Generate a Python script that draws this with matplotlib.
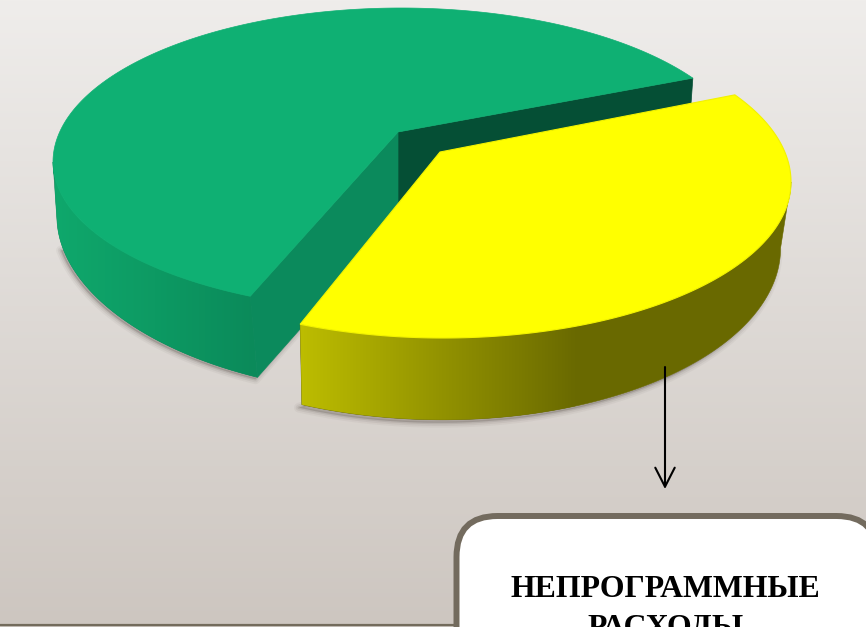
import numpy as np
import matplotlib
matplotlib.use("Agg")
import matplotlib.pyplot as plt
from matplotlib.patches import Polygon, FancyBboxPatch

# --- chart data ---
slice_names = ["Программные расходы", "Непрограммные расходы"]
slice_shares = [58.7, 40.9]
callout_lines = ["НЕПРОГРАММНЫЕ", "РАСХОДЫ"]

W, H = 866, 627
fig = plt.figure(figsize=(W / 100, H / 100), dpi=100)
ax = fig.add_axes([0, 0, 1, 1])


def reset():
    ax.set_xlim(0, W)
    ax.set_ylim(H, 0)


reset()
ax.axis("off")

# background gradient
top_c = np.array([0xEF, 0xED, 0xEB]) / 255
bot_c = np.array([0xCD, 0xC6, 0xC0]) / 255
t = np.linspace(0, 1, 256)[:, None, None]
bg = top_c[None, None, :] * (1 - t) + bot_c[None, None, :] * t
ax.imshow(bg, extent=[0, W, H, 0], aspect="auto", zorder=0)
reset()

# pie projection
START = 33.0
G_APEX = (398, 132)
Y_APEX = (440, 152)
G_E = dict(cx=401, cy=162, a=348, bu=154, bl=149)
Y_E = dict(cx=443, cy=182, a=348, bu=160, bl=156)


def arc(a0, a1, e, n=300):
    th = np.radians(np.linspace(a0, a1, n))
    s = np.sin(th)
    return e["cx"] + e["a"] * np.cos(th), e["cy"] - np.where(s > 0, e["bu"], e["bl"]) * s


def lower_green(x, y):
    s = np.clip((y - 162) / 149, 0, 1)
    return x + (401 - x) * (0.012 + 0.04 * s), y + 81 + (y - 296) * 0.148


def lower_yellow(x, y):
    k = np.where(x > 443, 0.03, 0.012)
    return x + (443 - x) * k, y + 81 + (y - 330) * 0.1


def shadow(xs, ys, dx, dy):
    for w, al in zip([7, 4.5, 2], [0.05, 0.08, 0.12]):
        ax.add_patch(Polygon(np.c_[xs + dx, ys + dy], closed=True, fc="#4f4640", ec="#4f4640",
                             lw=w, alpha=al, zorder=1, joinstyle="round"))


def gradient(colours, x0, x1, y0, y1, clip_xy, z):
    cols = np.array([[int(c[i:i + 2], 16) / 255 for i in (1, 3, 5)] for c in colours])
    u = np.linspace(0, len(cols) - 1, 512)
    img = np.stack([np.interp(u, np.arange(len(cols)), cols[:, i]) for i in range(3)], axis=1)[None, :, :]
    im = ax.imshow(img, extent=[x0, x1, y1, y0], aspect="auto", zorder=z)
    cp = Polygon(clip_xy, closed=True, transform=ax.transData, fc="none", ec="none")
    ax.add_patch(cp)
    im.set_clip_path(cp)
    reset()


g_span = 360 * slice_shares[0] / 100
y_span = 360 * slice_shares[1] / 100

# ---- green slice ----
gx, gy = arc(START, START + g_span, G_E)
gbx, gby = lower_green(gx, gy)
apex_bottom = (398, 132 + 86)
m = np.argmin(gx)
s0 = m + 12
shadow(np.r_[gbx[s0:], apex_bottom[0]], np.r_[gby[s0:], apex_bottom[1]], -2, 2)

# dark inner face
ax.add_patch(Polygon([G_APEX, (gx[0], gy[0]), (gbx[0], gby[0]), apex_bottom], closed=True,
                     fc="#054F35", ec="#054F35", lw=0.5, zorder=2.1))
# outer wall
wall = np.c_[np.r_[gx[m:], gbx[m:][::-1]], np.r_[gy[m:], gby[m:][::-1]]]
ax.add_patch(Polygon(wall, closed=True, fc="#0B8A5A", ec="#0B8A5A", lw=0.4, zorder=2))
gradient(["#0FA86C", "#0D9A63", "#0B8A5A"], 55, 255, 150, 390, wall, 2.05)
# cut face
ax.add_patch(Polygon([G_APEX, (gx[-1], gy[-1]), (gbx[-1], gby[-1]), apex_bottom], closed=True,
                     fc="#0B8A5C", ec="#0B8A5C", lw=0.5, zorder=2.2))
# top
ax.add_patch(Polygon(np.c_[np.r_[G_APEX[0], gx], np.r_[G_APEX[1], gy]], closed=True,
                     fc="#0FB073", ec="#0FB073", lw=0.5, zorder=3))

# ---- yellow slice ----
yx, yy = arc(START, START - y_span, Y_E)
ybx, yby = lower_yellow(yx, yy)
k = np.argmax(yx)
yw = np.c_[np.r_[yx[k:], ybx[k:][::-1]], np.r_[yy[k:], yby[k:][::-1]]]
shadow(ybx[k:], yby[k:], -3, 3)
ax.add_patch(Polygon(yw, closed=True, fc="#696900", ec="#696900", lw=0.4, zorder=3.9))
gradient(["#BDBD00", "#6A6A00"], 300, 575, 150, 430, yw, 4)
ax.add_patch(Polygon(np.c_[np.r_[Y_APEX[0], yx], np.r_[Y_APEX[1], yy]], closed=True,
                     fc="#FFFF00", ec="#F2F200", lw=0.8, zorder=5))

# arrow
ax.annotate("", xy=(665, 489), xytext=(665, 367),
            arrowprops=dict(arrowstyle="->,head_length=1.37,head_width=0.7", lw=1.5, color="black",
                            shrinkA=0, shrinkB=0), zorder=6)

# bottom rule
ax.plot([0, 455], [625.2, 625.2], color="#736B5C", lw=1.6, zorder=6, solid_capstyle="butt")
ax.plot([0, 455], [626.6, 626.6], color="#8a8a8a", lw=0.8, zorder=6, solid_capstyle="butt")

# callout box
ax.add_patch(FancyBboxPatch((456.5, 516), 421, 200, boxstyle="round,pad=0,rounding_size=41",
                            fc="white", ec="#736B5E", lw=4.3, zorder=7))

for txt, yc in zip(callout_lines, [589.5, 628.5]):
    ax.text(665.5, yc, txt, family="Liberation Serif", weight="bold", fontsize=22.9, color="black",
            ha="center", va="center", zorder=8)

fig.savefig("out.png", dpi=100)
